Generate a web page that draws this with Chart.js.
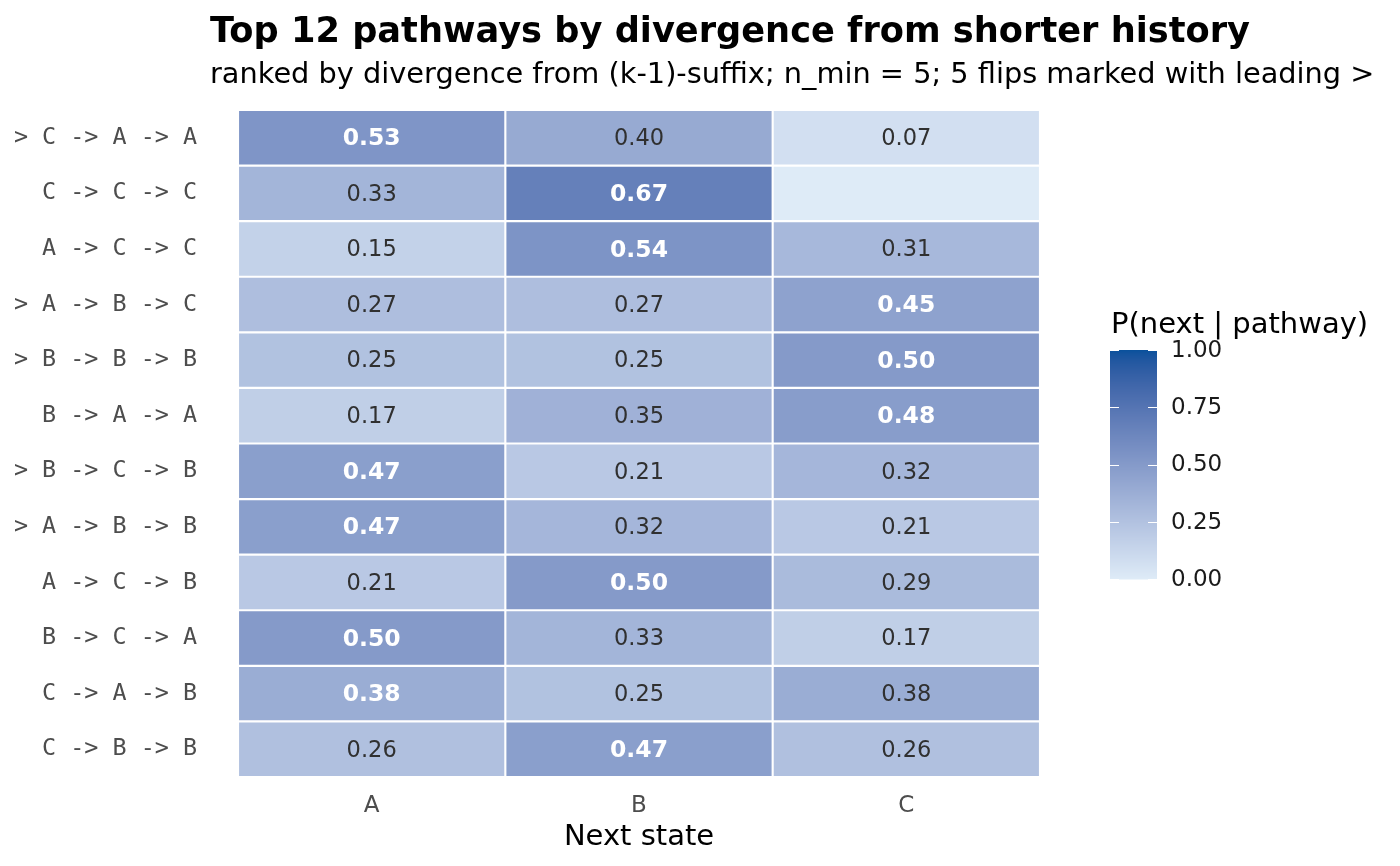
<!DOCTYPE html>
<html>
<head>
<meta charset="utf-8">
<script src="https://cdn.jsdelivr.net/npm/chart.js@4.4.1/dist/chart.umd.min.js"></script>
<style>
  html, body { margin: 0; padding: 0; background: #ffffff; }
  #wrap { width: 1400px; height: 866px; position: relative; }
</style>
</head>
<body>
<div id="wrap"><canvas id="c" width="1400" height="866"></canvas></div>
<script>
// ---- data ----
const pathways = [
  "> C -> A -> A",
  "  C -> C -> C",
  "  A -> C -> C",
  "> A -> B -> C",
  "> B -> B -> B",
  "  B -> A -> A",
  "> B -> C -> B",
  "> A -> B -> B",
  "  A -> C -> B",
  "  B -> C -> A",
  "  C -> A -> B",
  "  C -> B -> B"
];
const nextStates = ["A", "B", "C"];
const probA = [0.53, 0.33, 0.15, 0.27, 0.25, 0.17, 0.47, 0.47, 0.21, 0.50, 0.38, 0.26];
const probB = [0.40, 0.67, 0.54, 0.27, 0.25, 0.35, 0.21, 0.32, 0.50, 0.33, 0.25, 0.47];
const probC = [0.07, 0.00, 0.31, 0.45, 0.50, 0.48, 0.32, 0.21, 0.29, 0.17, 0.38, 0.26];
const legendTicks = [0, 0.25, 0.5, 0.75, 1.0];

const titleText = "Top 12 pathways by divergence from shorter history";
const subtitleText = "ranked by divergence from (k-1)-suffix; n_min = 5; 5 flips marked with leading >";
const xTitle = "Next state";
const legendTitle = "P(next | pathway)";

const probs = [probA, probB, probC];

// ---- colour scale (Lab interpolation, like ggplot2) ----
const LOW = "#deebf7", HIGH = "#08519c";
function hexToRgb(h){ h=h.replace('#',''); return [parseInt(h.substr(0,2),16),parseInt(h.substr(2,2),16),parseInt(h.substr(4,2),16)]; }
function toLin(c){ c/=255; return c<=0.04045? c/12.92 : Math.pow((c+0.055)/1.055,2.4); }
function fromLin(c){ const v = c<=0.0031308? 12.92*c : 1.055*Math.pow(c,1/2.4)-0.055; return Math.max(0,Math.min(255,Math.round(v*255))); }
const Xn=0.95047, Yn=1.0, Zn=1.08883;
function fLab(t){ return t>0.008856? Math.cbrt(t) : (7.787*t+16/116); }
function fInv(t){ return t>0.206893? t*t*t : (t-16/116)/7.787; }
function rgbToLab(rgb){
  const r=toLin(rgb[0]), g=toLin(rgb[1]), b=toLin(rgb[2]);
  const X=r*0.4124+g*0.3576+b*0.1805, Y=r*0.2126+g*0.7152+b*0.0722, Z=r*0.0193+g*0.1192+b*0.9505;
  const fx=fLab(X/Xn), fy=fLab(Y/Yn), fz=fLab(Z/Zn);
  return [116*fy-16, 500*(fx-fy), 200*(fy-fz)];
}
function labToRgb(lab){
  const fy=(lab[0]+16)/116, fx=fy+lab[1]/500, fz=fy-lab[2]/200;
  const X=Xn*fInv(fx), Y=Yn*fInv(fy), Z=Zn*fInv(fz);
  const r= 3.2406*X-1.5372*Y-0.4986*Z, g=-0.9689*X+1.8758*Y+0.0415*Z, b=0.0557*X-0.2040*Y+1.0570*Z;
  return [fromLin(r),fromLin(g),fromLin(b)];
}
const labLow = rgbToLab(hexToRgb(LOW)), labHigh = rgbToLab(hexToRgb(HIGH));
function colorFor(v){
  const t=Math.max(0,Math.min(1,v));
  const lab=[0,1,2].map(i=>labLow[i]+(labHigh[i]-labLow[i])*t);
  const c=labToRgb(lab);
  return `rgb(${c[0]},${c[1]},${c[2]})`;
}

// which column is the row max (first occurrence)
const rowMaxIdx = pathways.map((_,i)=>{
  let best=0; for(let j=1;j<3;j++){ if(probs[j][i]>probs[best][i]) best=j; } return best;
});

const datasets = nextStates.map((s,j)=>({
  label: s,
  data: pathways.map(()=>[j, j+1]),
  backgroundColor: probs[j].map(colorFor),
  borderColor: '#ffffff',
  borderWidth: 1.4,
  borderSkipped: false,
  grouped: false,
  barPercentage: 1.0,
  categoryPercentage: 1.0,
  values: probs[j]
}));

// ---- plugins ----
const cellLabels = {
  id: 'cellLabels',
  afterDatasetsDraw(chart){
    const ctx = chart.ctx;
    ctx.save();
    ctx.textAlign='center';
    ctx.textBaseline='middle';
    chart.data.datasets.forEach((ds,j)=>{
      const meta = chart.getDatasetMeta(j);
      meta.data.forEach((el,i)=>{
        const v = ds.values[i];
        if (!(v>0)) return;
        const cx = (el.x + el.base)/2;
        const isMax = rowMaxIdx[i]===j;
        if (isMax){ ctx.font='bold 23.5px "DejaVu Sans"'; ctx.fillStyle='#ffffff'; }
        else { ctx.font='22.5px "DejaVu Sans"'; ctx.fillStyle='#303030'; }
        ctx.fillText(v.toFixed(2), cx, el.y+1.5);
      });
    });
    ctx.restore();
  }
};

const titles = {
  id: 'titles',
  afterDraw(chart){
    const ctx = chart.ctx;
    ctx.save();
    ctx.textAlign='left';
    ctx.textBaseline='alphabetic';
    ctx.fillStyle='#000000';
    ctx.font='bold 35.2px "DejaVu Sans"';
    ctx.fillText(titleText, 210, 42);
    ctx.font='28.8px "DejaVu Sans"';
    ctx.fillText(subtitleText, 210, 83);
    ctx.restore();
  }
};

const colorbar = {
  id: 'colorbar',
  afterDraw(chart){
    const ctx = chart.ctx;
    const x0=1110, x1=1157, yTop=350, yBot=579;
    ctx.save();
    const h = yBot - yTop;
    for (let k=0;k<h;k++){
      const t = 1 - (k+0.5)/h;
      ctx.fillStyle = colorFor(t);
      ctx.fillRect(x0, yTop+k, x1-x0, 1.5);
    }
    ctx.strokeStyle='#ffffff';
    ctx.lineWidth=1;
    legendTicks.forEach(t=>{
      const y = Math.round(yBot - t*h)+0.5;
      ctx.beginPath();
      ctx.moveTo(x0, y); ctx.lineTo(x0+9, y);
      ctx.moveTo(x1-9, y); ctx.lineTo(x1, y);
      ctx.stroke();
    });
    ctx.fillStyle='#000000';
    ctx.font='29px "DejaVu Sans"';
    ctx.textAlign='left';
    ctx.textBaseline='alphabetic';
    ctx.fillText(legendTitle, 1111, 333);
    ctx.font='23px "DejaVu Sans"';
    ctx.textBaseline='middle';
    ctx.fillStyle='#1a1a1a';
    legendTicks.forEach(t=>{
      const y = yBot - t*h;
      ctx.fillText(t.toFixed(2), 1171, y+1);
    });
    ctx.restore();
  }
};

new Chart(document.getElementById('c'), {
  type: 'bar',
  data: { labels: pathways, datasets },
  options: {
    responsive: false,
    animation: false,
    indexAxis: 'y',
    layout: { padding: { top: 110, right: 360, left: 0, bottom: 0 } },
    plugins: {
      legend: { display: false },
      title: { display: false },
      tooltip: { enabled: false }
    },
    scales: {
      x: {
        type: 'linear',
        min: 0, max: 3,
        grid: { display: false, drawTicks: false },
        border: { display: false },
        afterBuildTicks(scale){ scale.ticks = [{value:0.5},{value:1.5},{value:2.5}]; },
        afterFit(scale){ scale.height = 89; },
        ticks: {
          color: '#4d4d4d',
          font: { family: 'DejaVu Sans', size: 23 },
          padding: 15,
          autoSkip: false,
          maxRotation: 0,
          callback: (v)=> nextStates[Math.floor(v)]
        },
        title: {
          display: true,
          text: xTitle,
          color: '#000000',
          font: { family: 'DejaVu Sans', size: 29 },
          padding: { top: 0, bottom: 11 }
        }
      },
      y: {
        type: 'category',
        grid: { display: false, drawTicks: false },
        border: { display: false },
        afterFit(scale){ scale.width = 238; },
        ticks: {
          color: '#4d4d4d',
          font: { family: 'DejaVu Sans Mono', size: 23.4 },
          padding: 41,
          autoSkip: false
        }
      }
    }
  },
  plugins: [cellLabels, titles, colorbar]
});
</script>
</body>
</html>
